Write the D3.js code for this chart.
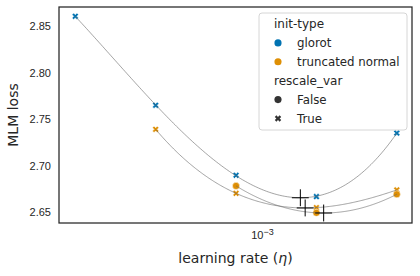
<!DOCTYPE html>
<html>
<head>
<meta charset="utf-8">
<script src="https://cdn.jsdelivr.net/npm/d3@7"></script>
<style>
  body { margin: 0; background: #fff; }
  svg { display: block; font-family: "DejaVu Sans", sans-serif; }
  .tick text { fill: #262626; }
</style>
</head>
<body>
<svg id="chart" width="420" height="276"></svg>
<script>
// learning rates on the x axis (log scale)
const learningRates = [2e-4, 4e-4, 8e-4, 1.6e-3, 3.2e-3];
const initTypes = ['glorot', 'truncated normal'];
const rescaleVars = ['False', 'True'];
// MLM loss per learning rate, null where there is no run
const glorotTrueLoss = [2.861, 2.765, 2.6895, 2.6665, 2.735];
const truncatedTrueLoss = [null, 2.739, 2.670, 2.6546, 2.6737];
const truncatedFalseLoss = [null, null, 2.678, 2.649, 2.669];
const yTicks = [2.65, 2.70, 2.75, 2.80, 2.85];
const xTicks = [1e-3];

const palette = { 'glorot': '#0173b2', 'truncated normal': '#de8f05' };

const series = [
  { init: 'glorot', rescale: 'True', values: glorotTrueLoss },
  { init: 'truncated normal', rescale: 'True', values: truncatedTrueLoss },
  { init: 'truncated normal', rescale: 'False', values: truncatedFalseLoss }
];

const width = 420, height = 276;
const margin = { top: 7, right: 8, bottom: 53, left: 59 };

const svg = d3.select('#chart');

const x = d3.scaleLog()
  .domain([1.738e-4, 3.648e-3])
  .range([margin.left, width - margin.right]);

const y = d3.scaleLinear()
  .domain([2.638, 2.871])
  .range([height - margin.bottom, margin.top]);

// least squares polynomial fit in log10(lr)
function polyFit(xs, ys, deg) {
  const n = deg + 1;
  const A = Array.from({ length: n }, () => new Array(n + 1).fill(0));
  xs.forEach((xv, k) => {
    for (let i = 0; i < n; i++) {
      for (let j = 0; j < n; j++) A[i][j] += Math.pow(xv, i + j);
      A[i][n] += ys[k] * Math.pow(xv, i);
    }
  });
  for (let c = 0; c < n; c++) {
    let p = c;
    for (let r = c + 1; r < n; r++) if (Math.abs(A[r][c]) > Math.abs(A[p][c])) p = r;
    [A[c], A[p]] = [A[p], A[c]];
    for (let r = 0; r < n; r++) {
      if (r === c) continue;
      const f = A[r][c] / A[c][c];
      for (let k = c; k <= n; k++) A[r][k] -= f * A[c][k];
    }
  }
  return A.map((row, i) => row[n] / row[i]);
}
const polyEval = (coef, t) => coef.reduce((s, c, i) => s + c * Math.pow(t, i), 0);

const symX = d3.symbol().type(d3.symbolCross).size(26);
const symO = d3.symbol().type(d3.symbolCircle).size(40);

// scatter points
const pts = [];
series.forEach(s => {
  s.values.forEach((v, i) => {
    if (v != null) pts.push({ lr: learningRates[i], v, init: s.init, rescale: s.rescale });
  });
});

svg.append('g').selectAll('path')
  .data(pts)
  .join('path')
  .attr('d', d => d.rescale === 'True' ? symX() : symO())
  .attr('transform', d => `translate(${x(d.lr)},${y(d.v)})` + (d.rescale === 'True' ? ' rotate(45)' : ''))
  .attr('fill', d => palette[d.init])
  .attr('stroke', '#fff')
  .attr('stroke-width', 0.5);

// fitted curves and their minima
const line = d3.line().x(d => x(d[0])).y(d => y(d[1]));
const minima = [];
series.forEach(s => {
  const idx = s.values.map((v, i) => v != null ? i : -1).filter(i => i >= 0);
  const ts = idx.map(i => Math.log10(learningRates[i]) + 3);
  const vs = idx.map(i => s.values[i]);
  const coef = polyFit(ts, vs, Math.min(3, ts.length - 1));
  const t0 = ts[0], t1 = ts[ts.length - 1];
  const curve = d3.range(0, 201).map(k => {
    const t = t0 + (t1 - t0) * k / 200;
    return [Math.pow(10, t - 3), polyEval(coef, t)];
  });
  svg.append('path')
    .attr('d', line(curve))
    .attr('fill', 'none')
    .attr('stroke', '#666')
    .attr('stroke-width', 0.6);
  minima.push(curve.reduce((a, b) => b[1] < a[1] ? b : a));
});

svg.append('g').selectAll('path')
  .data(minima)
  .join('path')
  .attr('d', d3.symbol().type(d3.symbolPlus).size(95))
  .attr('transform', d => `translate(${x(d[0])},${y(d[1])})`)
  .attr('fill', 'none')
  .attr('stroke', '#000')
  .attr('stroke-width', 1);

// axes
const yAxis = svg.append('g')
  .attr('transform', `translate(${margin.left},0)`)
  .call(d3.axisLeft(y).tickValues(yTicks).tickSize(0).tickPadding(8).tickFormat(d3.format('.2f')));
yAxis.select('.domain').remove();
yAxis.selectAll('text').style('font-size', '11px');

const xAxis = svg.append('g')
  .attr('transform', `translate(0,${height - margin.bottom})`)
  .call(d3.axisBottom(x).tickValues(xTicks).tickSize(0).tickPadding(8).tickFormat(() => ''));
xAxis.select('.domain').remove();
xAxis.selectAll('.tick text').each(function(d) {
  const t = d3.select(this).style('font-size', '11px');
  t.append('tspan').text('10');
  t.append('tspan').attr('dy', '-0.4em').style('font-size', '9px').text('\u2212' + (-Math.log10(d)));
});

// frame
svg.append('rect')
  .attr('x', margin.left).attr('y', margin.top)
  .attr('width', width - margin.left - margin.right)
  .attr('height', height - margin.top - margin.bottom)
  .attr('fill', 'none')
  .attr('stroke', '#262626')
  .attr('stroke-width', 1.25);

// axis labels
svg.append('text')
  .attr('x', (margin.left + width - margin.right) / 2)
  .attr('y', 263)
  .attr('text-anchor', 'middle')
  .style('font-size', '14px')
  .attr('fill', '#262626')
  .call(t => {
    t.append('tspan').text('learning rate (');
    t.append('tspan').style('font-style', 'italic').text('η');
    t.append('tspan').text(')');
  });

svg.append('text')
  .attr('transform', `translate(18,${(margin.top + height - margin.bottom) / 2}) rotate(-90)`)
  .attr('text-anchor', 'middle')
  .style('font-size', '14px')
  .attr('fill', '#262626')
  .text('MLM loss');

// legend
const legend = svg.append('g').attr('transform', 'translate(259,13)');
legend.append('rect')
  .attr('width', 148).attr('height', 117)
  .attr('rx', 3)
  .attr('fill', '#fff').attr('fill-opacity', 0.8)
  .attr('stroke', '#ccc').attr('stroke-width', 0.8);

const rows = [
  { title: 'init-type' },
  ...initTypes.map(k => ({ label: k, color: palette[k], sym: 'o' })),
  { title: 'rescale_var' },
  ...rescaleVars.map(k => ({ label: k, color: '#333', sym: k === 'True' ? 'x' : 'o' }))
];
rows.forEach((r, i) => {
  const cy = 11 + i * 18.9;
  if (r.title) {
    legend.append('text').attr('x', 15).attr('y', cy)
      .attr('dominant-baseline', 'central')
      .style('font-size', '12px').attr('fill', '#262626').text(r.title);
  } else {
    legend.append('path')
      .attr('d', r.sym === 'x' ? symX() : symO())
      .attr('transform', `translate(19,${cy})` + (r.sym === 'x' ? ' rotate(45)' : ''))
      .attr('fill', r.color);
    legend.append('text').attr('x', 38).attr('y', cy)
      .attr('dominant-baseline', 'central')
      .style('font-size', '11.8px').attr('fill', '#262626').text(r.label);
  }
});
</script>
</body>
</html>
